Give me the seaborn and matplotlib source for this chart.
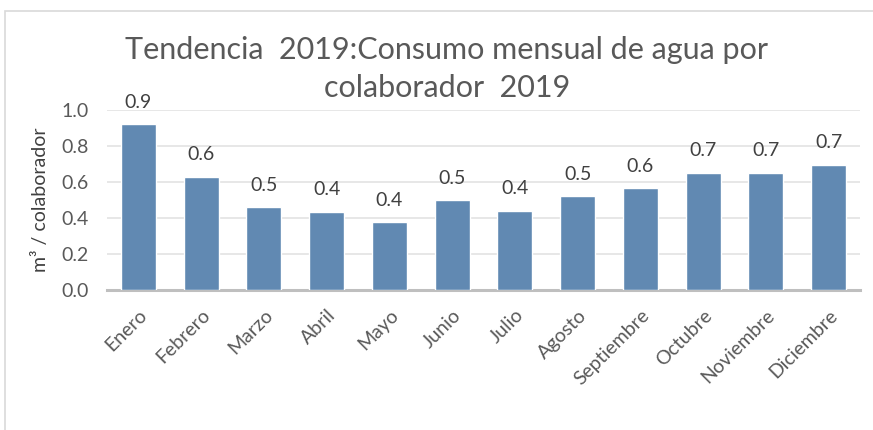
import matplotlib
matplotlib.use("Agg")
import matplotlib.pyplot as plt
from matplotlib.patches import Rectangle
import seaborn as sns
import pandas as pd

########## Data ##########

meses = ["Enero", "Febrero", "Marzo", "Abril", "Mayo", "Junio", "Julio",
         "Agosto", "Septiembre", "Octubre", "Noviembre", "Diciembre"]
consumo = [0.92, 0.63, 0.46, 0.435, 0.376, 0.50, 0.44, 0.52, 0.565, 0.652, 0.652, 0.695]
y_ticks = [0.0, 0.2, 0.4, 0.6, 0.8, 1.0]

titulo = ["Tendencia  2019:Consumo mensual de agua por", "colaborador  2019"]
y_nombre = "m³ / colaborador"

########## Plot ##########

sns.set_theme(style="white")
plt.rcParams["font.family"] = ["Lato", "DejaVu Sans"]

frame = pd.DataFrame({"mes": meses, "consumo": consumo})

fig = plt.figure(figsize=(8.73, 4.3), dpi=100)
ax = fig.add_axes([0.1226, 0.326, 0.8625, 0.418])

sns.barplot(data=frame, x="mes", y="consumo", color="#6189b2", width=0.56,
            saturation=1, ax=ax, zorder=3)

# data labels above each bar
for i, v in enumerate(consumo):
    ax.text(i, v + 0.122, f"{v:.1f}", ha="center", va="center",
            fontsize=14, color="#404040")

ax.set_ylim(0, 1.0)
ax.set_yticks(y_ticks)
ax.set_yticklabels([f"{t:.1f}" for t in y_ticks], fontsize=14, color="#595959")
ax.set_xlim(-0.5, len(meses) - 0.5)
ax.grid(axis="y", color="#e3e3e3", linewidth=1.2, zorder=0)
ax.set_axisbelow(True)
ax.tick_params(axis="y", length=0, pad=13)
ax.tick_params(axis="x", length=0, pad=12)
plt.setp(ax.get_xticklabels(), rotation=45, ha="right", rotation_mode="anchor",
         fontsize=14, color="#595959")

for side in ["top", "right", "left"]:
    ax.spines[side].set_visible(False)
ax.spines["bottom"].set_color("#bfbfbf")
ax.spines["bottom"].set_linewidth(2.2)

ax.set_xlabel("")
ax.set_ylabel(y_nombre, fontsize=14, color="#404040", labelpad=9)

# two-line title, one text per line
fig.text(0.512, 0.883, titulo[0], ha="center", va="center", fontsize=22, color="#595959")
fig.text(0.512, 0.795, titulo[1], ha="center", va="center", fontsize=22, color="#595959")

# chart border
fig.patches.append(Rectangle((0.006, -0.01), 1.0, 0.985, transform=fig.transFigure,
                             fill=False, edgecolor="#d9d9d9", linewidth=1.2))

fig.savefig("out.png", dpi=100)
